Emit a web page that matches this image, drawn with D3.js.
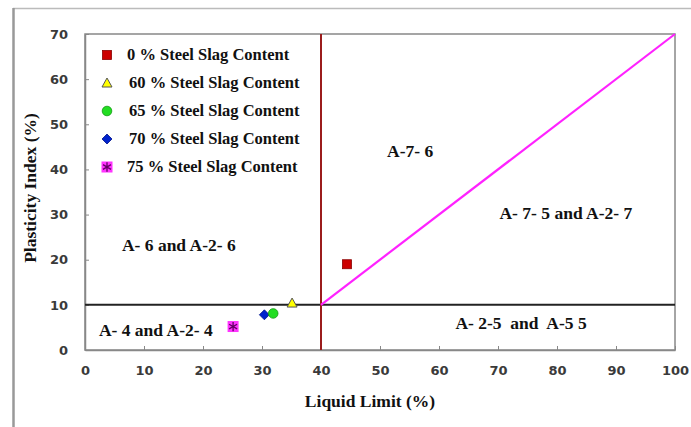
<!DOCTYPE html>
<html>
<head>
<meta charset="utf-8">
<script src="https://cdn.jsdelivr.net/npm/d3@7"></script>
<style>
  body { margin: 0; background: #fff; }
  .tick text { font-family: "DejaVu Sans", Verdana, sans-serif; font-weight: bold; font-size: 13px; fill: #3a3a3a; }
  .lbl { font-family: "Liberation Serif", "Times New Roman", serif; font-weight: bold; fill: #111; }
</style>
</head>
<body>
<div class="chart"></div>
<script>
// series: [liquid limit, plasticity index]
const seriesNames = ["0 % Steel Slag Content", "60 % Steel Slag Content", "65 % Steel Slag Content",
                     "70 % Steel Slag Content", "75 % Steel Slag Content"];
const liquidLimit = [44.4, 35.1, 31.9, 30.4, 25.1];
const plasticityIndex = [19, 10.4, 8.1, 7.8, 5.2];
const xTicks = [0, 10, 20, 30, 40, 50, 60, 70, 80, 90, 100];
const yTicks = [0, 10, 20, 30, 40, 50, 60, 70];
// classification boundaries
const verticalLine = [[40, 0], [40, 70]];
const horizontalLine = [[0, 10], [100, 10]];
const diagonalLine = [[40, 10], [100, 70]];
const zoneLabels = [
    { text: "A-7- 6", x: 55.1, y: 43.6 },
    { text: "A- 7- 5 and A-2- 7", x: 81.5, y: 29.9 },
    { text: "A- 6 and A-2- 6", x: 15.9, y: 22.9 },
    { text: "A- 4 and A-2- 4", x: 12.0, y: 4.05 },
    { text: "A- 2-5  and  A-5 5", x: 73.9, y: 5.5 }
];

const width = 691, height = 427;
const plotLeft = 85, plotRight = 675, plotTop = 34, plotBottom = 350;

const svg = d3.select(".chart").append("svg")
    .attr("width", width).attr("height", height);

// outer frame
svg.append("line").attr("x1", 13).attr("x2", 691).attr("y1", 8.5).attr("y2", 8.5)
    .attr("stroke", "#bbb").attr("stroke-width", 1.5);
svg.append("line").attr("x1", 13.5).attr("x2", 13.5).attr("y1", 8).attr("y2", 427)
    .attr("stroke", "#999").attr("stroke-width", 2.5);

const x = d3.scaleLinear().domain([0, 100]).range([plotLeft, plotRight]);
const y = d3.scaleLinear().domain([0, 70]).range([plotBottom, plotTop]);

// plot frame
svg.append("rect").attr("x", plotLeft).attr("y", plotTop)
    .attr("width", plotRight - plotLeft).attr("height", plotBottom - plotTop)
    .attr("fill", "none").attr("stroke", "#888").attr("stroke-width", 1.5);

svg.append("g")
    .attr("transform", "translate(0," + plotBottom + ")")
    .call(d3.axisBottom(x).tickValues(xTicks).tickSizeInner(-4).tickSizeOuter(0).tickPadding(16))
    .call(g => g.select(".domain").attr("stroke", "#888").attr("stroke-width", 1.5))
    .call(g => g.selectAll(".tick line").attr("stroke", "#888"));

svg.append("g")
    .attr("transform", "translate(" + plotLeft + ",0)")
    .call(d3.axisLeft(y).tickValues(yTicks).tickSizeInner(-4).tickSizeOuter(0).tickPadding(17))
    .call(g => g.select(".domain").attr("stroke", "#888").attr("stroke-width", 1.5))
    .call(g => g.selectAll(".tick line").attr("stroke", "#888"));

const line = d3.line().x(d => x(d[0])).y(d => y(d[1]));

svg.append("path").datum(horizontalLine).attr("d", line)
    .attr("stroke", "#222").attr("stroke-width", 2).attr("fill", "none");
svg.append("path").datum(verticalLine).attr("d", line)
    .attr("stroke", "#9b1c1c").attr("stroke-width", 2).attr("fill", "none");
svg.append("path").datum(diagonalLine).attr("d", line)
    .attr("stroke", "#ff22ff").attr("stroke-width", 2.2).attr("fill", "none");

// zone labels
svg.selectAll(".zone").data(zoneLabels).enter().append("text")
    .attr("class", "lbl zone")
    .attr("x", d => x(d.x)).attr("y", d => y(d.y))
    .attr("text-anchor", "middle").attr("dominant-baseline", "middle")
    .attr("font-size", 17.5)
    .attr("xml:space", "preserve")
    .text(d => d.text);

// markers
const markerStyles = [
    { shape: "square", fill: "#cc0000", stroke: "#8b0000" },
    { shape: "triangle", fill: "#ffff00", stroke: "#555" },
    { shape: "circle", fill: "#22dd22", stroke: "#119911" },
    { shape: "diamond", fill: "#0022cc", stroke: "#001188" },
    { shape: "star", fill: "#ff33ff", stroke: "#660066" }
];

function drawMarker(g, i, cx, cy) {
    const s = markerStyles[i];
    if (s.shape === "square") {
        g.append("rect").attr("x", cx - 4.5).attr("y", cy - 4.5).attr("width", 9).attr("height", 9)
            .attr("fill", s.fill).attr("stroke", s.stroke).attr("stroke-width", 0.8);
    } else if (s.shape === "triangle") {
        g.append("path").attr("d", "M0,-5L5,4L-5,4Z")
            .attr("transform", "translate(" + cx + "," + cy + ")")
            .attr("fill", s.fill).attr("stroke", s.stroke).attr("stroke-width", 1);
    } else if (s.shape === "circle") {
        g.append("circle").attr("cx", cx).attr("cy", cy).attr("r", 4.8)
            .attr("fill", s.fill).attr("stroke", s.stroke).attr("stroke-width", 0.8);
    } else if (s.shape === "diamond") {
        g.append("path").attr("d", "M0,-5L5,0L0,5L-5,0Z")
            .attr("transform", "translate(" + cx + "," + cy + ")")
            .attr("fill", s.fill).attr("stroke", s.stroke).attr("stroke-width", 0.8);
    } else {
        g.append("rect").attr("x", cx - 5.5).attr("y", cy - 5.5).attr("width", 11).attr("height", 11)
            .attr("fill", s.fill).attr("stroke", "none");
        g.append("path").attr("d", d3.symbol(d3.symbolAsterisk, 60)())
            .attr("transform", "translate(" + cx + "," + cy + ")")
            .attr("fill", "none").attr("stroke", s.stroke).attr("stroke-width", 1.3);
    }
}

const points = svg.append("g");
// draw in reverse so the 0 % marker sits on top
d3.range(liquidLimit.length).reverse().forEach(i => {
    drawMarker(points, i, x(liquidLimit[i]), y(plasticityIndex[i]));
});

// legend
const legend = svg.append("g");
seriesNames.forEach((name, i) => {
    const ly = 55 + i * 28;
    drawMarker(legend, i, 107, ly);
    legend.append("text").attr("class", "lbl")
        .attr("x", (i === 0 || i === 4) ? 127 : 129).attr("y", ly + 1)
        .attr("dominant-baseline", "middle").attr("font-size", 16.5)
        .text(name);
});

// axis titles
svg.append("text").attr("class", "lbl")
    .attr("x", 370).attr("y", 403)
    .attr("text-anchor", "middle").attr("dominant-baseline", "middle").attr("font-size", 17.5)
    .text("Liquid Limit (%)");
svg.append("text").attr("class", "lbl")
    .attr("transform", "translate(32,188) rotate(-90)")
    .attr("text-anchor", "middle").attr("dominant-baseline", "middle").attr("font-size", 17.5)
    .text("Plasticity Index (%)");
</script>
</body>
</html>
